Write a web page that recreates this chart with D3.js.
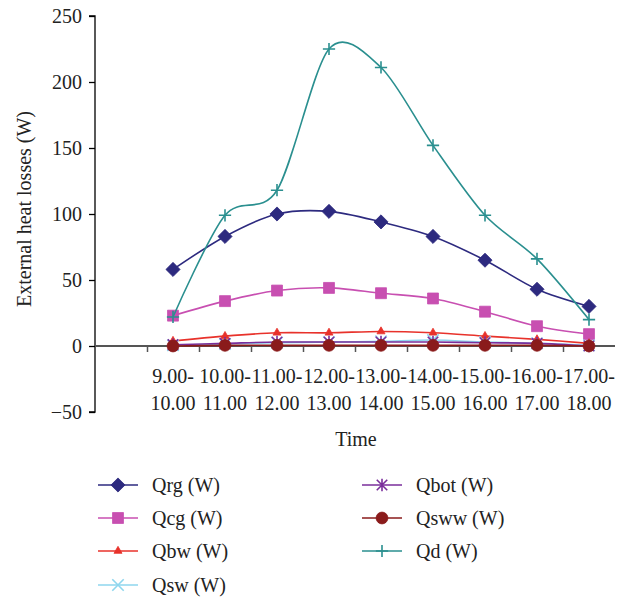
<!DOCTYPE html>
<html><head><meta charset="utf-8">
<script src="https://cdn.jsdelivr.net/npm/d3@7"></script>
<style>
html,body{margin:0;padding:0;background:#fff;}
svg{display:block;font-family:"Liberation Serif","DejaVu Serif",serif;}
</style></head>
<body>
<svg id="chart" width="625" height="601"></svg>
<script>
const categories = ["9.00-|10.00","10.00-|11.00","11.00-|12.00","12.00-|13.00","13.00-|14.00","14.00-|15.00","15.00-|16.00","16.00-|17.00","17.00-|18.00"];
const yTicks = [-50, 0, 50, 100, 150, 200, 250];
const Qrg  = [58, 83, 100, 102, 94, 83, 65, 43, 30];
const Qcg  = [23, 34, 42, 44, 40, 36, 26, 15, 9];
const Qbw  = [3.8, 7.5, 10, 10, 11, 10, 7.5, 5, 2];
const Qsw  = [0.5, 1.5, 2.5, 3, 3.5, 4.5, 3, 2, 0.5];
const Qbot = [1, 2, 3, 3, 3, 3, 2.5, 2, 0];
const Qsww = [0, 0.5, 0.5, 0.5, 0.5, 0.5, 0.5, 0.5, 0];
const Qd   = [22, 99, 118, 225, 211, 152, 99, 66, 20];
const seriesNames = ["Qrg (W)","Qcg (W)","Qbw (W)","Qsw (W)","Qbot (W)","Qsww (W)","Qd (W)"];

// custom marker shapes
const wideDiamond = { draw(ctx, size) { const r = Math.sqrt(size / 2); ctx.moveTo(0, -r); ctx.lineTo(r, 0); ctx.lineTo(0, r); ctx.lineTo(-r, 0); ctx.closePath(); } };
const cross = { draw(ctx, size) { const r = Math.sqrt(size) / 2; ctx.moveTo(-r, -r); ctx.lineTo(r, r); ctx.moveTo(-r, r); ctx.lineTo(r, -r); } };
const plus = { draw(ctx, size) { const r = Math.sqrt(size) / 2; ctx.moveTo(-r, 0); ctx.lineTo(r, 0); ctx.moveTo(0, -r); ctx.lineTo(0, r); } };
const star = { draw(ctx, size) { const r = Math.sqrt(size) / 2; ctx.moveTo(-r, -r); ctx.lineTo(r, r); ctx.moveTo(-r, r); ctx.lineTo(r, -r); ctx.moveTo(0, -r * 1.2); ctx.lineTo(0, r * 1.2); } };

const series = [
  {name: seriesNames[0], values: Qrg,  color: "#2D2A7F", symbol: wideDiamond, size: 100, stroke: false},
  {name: seriesNames[1], values: Qcg,  color: "#C84FB1", symbol: d3.symbolSquare, size: 120, stroke: false},
  {name: seriesNames[2], values: Qbw,  color: "#E8322B", symbol: d3.symbolTriangle, size: 28, stroke: false},
  {name: seriesNames[3], values: Qsw,  color: "#8ED6EE", symbol: cross, size: 130, stroke: true},
  {name: seriesNames[4], values: Qbot, color: "#7A2E9B", symbol: star, size: 110, stroke: true},
  {name: seriesNames[5], values: Qsww, color: "#8A1B1B", symbol: d3.symbolCircle, size: 110, stroke: false},
  {name: seriesNames[6], values: Qd,   color: "#2A8F8F", symbol: plus, size: 150, stroke: true}
];

const svg = d3.select("#chart");
const x0 = 95, x1 = 615;
const x = d3.scaleBand().domain(["", ...categories]).range([x0, x1]).padding(0);
const xIdx = d3.scaleLinear().domain([0, categories.length + 1]).range([x0, x1]);
const y = d3.scaleLinear().domain([-50, 250]).range([412, 16]);
const cx = c => x(c) + x.bandwidth() / 2;
const FS = 20;

// Y axis
const yAxis = svg.append("g").attr("transform", `translate(${x0},0)`)
  .call(d3.axisLeft(y).tickValues(yTicks).tickSize(6).tickPadding(7)
    .tickFormat(d => d < 0 ? "\u2212" + Math.abs(d) : d));
yAxis.select(".domain").attr("stroke", "#000").attr("stroke-width", 1.3).attr("d", `M-6,${y(-50)}H0V${y(250)}H-6`);
yAxis.selectAll(".tick line").attr("stroke", "#000").attr("stroke-width", 1.3);
yAxis.selectAll("text").attr("font-size", FS).attr("fill", "#222").attr("font-family", "Liberation Serif");

// X axis at zero
const xAxis = svg.append("g").attr("transform", `translate(0,${y(0)})`)
  .call(d3.axisBottom(xIdx).tickValues(d3.range(1, categories.length + 1)).tickSize(6).tickFormat(""));
xAxis.select(".domain").attr("stroke", "#555").attr("stroke-width", 2).attr("d", `M${x0},0H${x1}`);
xAxis.selectAll(".tick line").attr("stroke", "#555").attr("stroke-width", 1.5);

// X labels
const lbl = svg.append("g").attr("font-size", FS).attr("fill", "#222").attr("text-anchor", "middle");
categories.forEach(c => {
  const parts = c.split("|");
  const t = lbl.append("text");
  t.append("tspan").attr("x", cx(c)).attr("y", 383).text(parts[0]);
  t.append("tspan").attr("x", cx(c)).attr("y", 410).text(parts[1]);
});

// Axis titles
svg.append("text").attr("x", 356).attr("y", 446).attr("text-anchor", "middle")
  .attr("font-size", FS).attr("fill", "#222").text("Time");
svg.append("text").attr("transform", "translate(31,209) rotate(-90)").attr("text-anchor", "middle")
  .attr("font-size", FS).attr("fill", "#222").text("External heat losses (W)");

// Lines
const line = d3.line().x((d, i) => cx(categories[i])).y(d => y(d)).curve(d3.curveCardinal.tension(0.1));
const plot = svg.append("g");
series.forEach(s => {
  plot.append("path").attr("d", line(s.values)).attr("fill", "none")
    .attr("stroke", s.color).attr("stroke-width", 1.6);
  plot.selectAll(null).data(s.values).enter().append("path")
    .attr("transform", (d, i) => `translate(${cx(categories[i])},${y(d)})`)
    .attr("d", d3.symbol().type(s.symbol).size(s.size))
    .attr("fill", s.stroke ? "none" : s.color)
    .attr("stroke", s.color)
    .attr("stroke-width", s.stroke ? 1.6 : 0.8);
});

// Legend
const legPos = [[98,485],[98,518],[98,551],[98,585],[362,485],[362,518],[362,551]];
const leg = svg.append("g");
series.forEach((s, i) => {
  const [lx, ly] = legPos[i];
  const g = leg.append("g").attr("transform", `translate(${lx},${ly})`);
  g.append("line").attr("x1", 0).attr("x2", 40).attr("y1", 0).attr("y2", 0).attr("stroke", s.color).attr("stroke-width", 1.6);
  g.append("path").attr("transform", "translate(20,0)")
    .attr("d", d3.symbol().type(s.symbol).size(s.size))
    .attr("fill", s.stroke ? "none" : s.color).attr("stroke", s.color).attr("stroke-width", s.stroke ? 1.6 : 0.8);
  g.append("text").attr("x", 54).attr("y", 7).attr("font-size", FS).attr("fill", "#222").text(s.name);
});
</script>
</body></html>
